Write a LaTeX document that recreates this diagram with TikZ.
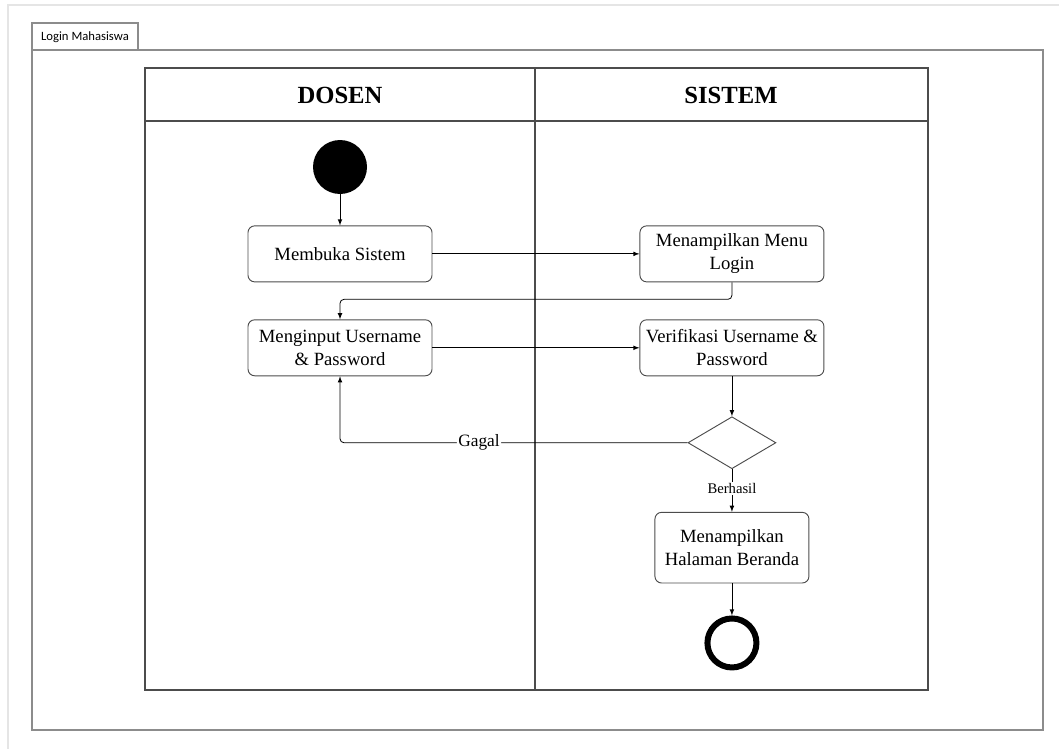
\documentclass[tikz,border=0pt]{standalone}
\usepackage{fontspec}
\setmainfont{Liberation Serif}
\newfontfamily\tabfont{Carlito}
\usetikzlibrary{positioning,shapes.geometric}
\tikzset{%
  every activity/.style={
    rectangle,
    rounded corners=5pt,
    draw=black!70,
    line width=0.7pt,
    align=center,
    inner sep=2pt,
    minimum width=138pt,
    minimum height=42pt,
    font=\fontsize{14}{17}\selectfont
  },
}

\begin{document}
\begin{tikzpicture}[x=0.75pt,y=-0.75pt,>=latex,line width=0.6pt]
        \tikzstyle{lane}=[draw=black!70,line width=0.8pt]
        \tikzstyle{frame}=[draw=black!45,line width=1.4pt]
        \tikzstyle{guard}=[fill=white,inner sep=1pt]

        \useasboundingbox (0,0) rectangle (1059,749);
        \draw[black!10,line width=1.5pt] (8,749) -- (8,5) -- (1059,5);

        % frame and tab
        \draw[frame] (32,50) rectangle (1043,730);
        \draw[frame] (32,50) |- (138,23) -- (138,50);
        \node[font=\tabfont\fontsize{9.5}{10}\selectfont,anchor=center] (tab) at (85,37) {Login Mahasiswa};

        % swimlanes
        \draw[lane] (145,68) rectangle (928,690);
        \draw[lane] (145,121) -- (928,121);
        \draw[lane] (535,68) -- (535,690);
        \node[font=\bfseries\fontsize{18.5}{20}\selectfont] (dosen) at (340,95) {DOSEN};
        \node[font=\bfseries\fontsize{18.5}{20}\selectfont] (sistem) at (731,95) {SISTEM};

        % nodes
        \node[circle,fill=black,minimum size=40.5pt,inner sep=0pt] (start) at (340,167) {};
        \node[every activity,below=23.25pt of start] (membuka) {Membuka Sistem};
        \node[every activity,right=155.25pt of membuka] (menu) {Menampilkan Menu\\Login};
        \node[every activity,below=27.75pt of membuka] (input) {Menginput Username\\\& Password};
        \node[every activity,right=155.25pt of input] (verif) {Verifikasi Username \&\\Password};
        \node[diamond,draw=black!70,line width=0.7pt,inner sep=0pt,minimum width=66pt,minimum height=39pt,below=30pt of verif] (cek) {};
        \node[every activity,minimum width=115.5pt,minimum height=53pt,below=32pt of cek] (beranda) {Menampilkan\\Halaman Beranda};
        \node[circle,draw=black,line width=4.5pt,minimum size=36.75pt,inner sep=0pt,below=24pt of beranda] (end) {};

        % connectors
        \draw[->] (start) -- (membuka);
        \draw[->] (membuka) -- (menu);
        \draw[->,rounded corners=3pt] (menu.south) -- ++(0,-12.75pt) -| (input.north);
        \draw[->] (input) -- (verif);
        \draw[->] (verif) -- (cek);
        \draw[->,rounded corners=3pt] (cek.west) -| node[guard,pos=0.3,font=\fontsize{13}{14}\selectfont] {Gagal} (input.south);
        \draw[->] (cek) -- node[guard,pos=0.45,font=\fontsize{11}{12}\selectfont] {Berhasil} (beranda);
        \draw[->] (beranda) -- (end);
    \end{tikzpicture}
\end{document}
